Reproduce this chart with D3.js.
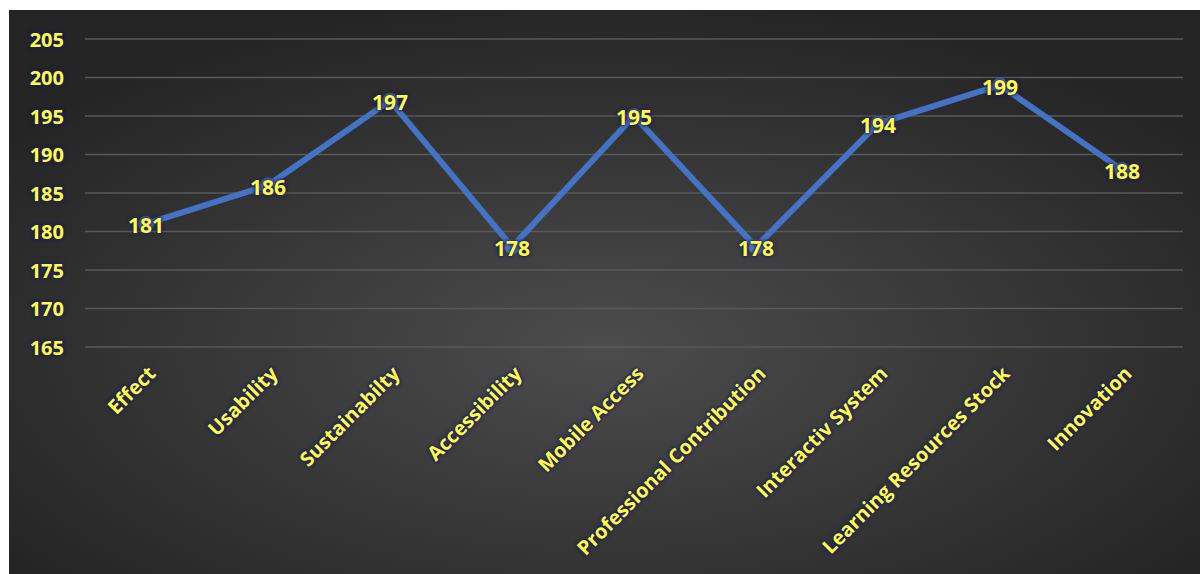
<!DOCTYPE html>
<html>
<head>
<meta charset="utf-8">
<script src="https://cdn.jsdelivr.net/npm/d3@7"></script>
<style>
  body { margin: 0; background: #fff; }
  text { font-family: "Open Sans", Lato, sans-serif; font-weight: bold; }
  .glow { text-shadow: 0 0 2px #1c1c8a, 0 0 3px #1c1c8a, 0 0 4px #1c1c6a; }
</style>
</head>
<body>
<svg id="chart" width="1200" height="574"></svg>
<script>
// data
const categories = ['Effect', 'Usability', 'Sustainabilty', 'Accessibility', 'Mobile Access',
  'Professional Contribution', 'Interactiv System', 'Learning Resources Stock', 'Innovation'];
const values = [181, 186, 197, 178, 195, 178, 194, 199, 188];
const yTicks = [165, 170, 175, 180, 185, 190, 195, 200, 205];

const svg = d3.select('#chart');
const width = +svg.attr('width');
const height = +svg.attr('height');
const margin = {top: 39, right: 17, left: 85};
const plotBottom = 347;
const fontSize = 20;

// background with radial gradient
const defs = svg.append('defs');
const grad = defs.append('radialGradient')
  .attr('id', 'bg')
  .attr('cx', '50%').attr('cy', '60%').attr('r', '62%');
grad.append('stop').attr('offset', '0%').attr('stop-color', '#4c4c4c');
grad.append('stop').attr('offset', '100%').attr('stop-color', '#252525');

svg.append('rect')
  .attr('x', 9).attr('y', 10)
  .attr('width', width - 9).attr('height', height - 10)
  .attr('fill', 'url(#bg)');

const xScale = d3.scaleBand()
  .domain(categories)
  .range([margin.left, width - margin.right]);

const yScale = d3.scaleLinear()
  .domain([165, 205])
  .range([plotBottom, margin.top]);

// gridlines
svg.append('g')
  .selectAll('line')
  .data(yTicks)
  .join('line')
  .attr('x1', margin.left)
  .attr('x2', width - margin.right)
  .attr('y1', d => yScale(d))
  .attr('y2', d => yScale(d))
  .attr('stroke', '#595959')
  .attr('stroke-width', 1.5);

// y axis labels
const yAxis = d3.axisLeft(yScale).tickValues(yTicks).tickSize(0).tickPadding(0);
const yg = svg.append('g')
  .attr('transform', `translate(64, 0)`)
  .call(yAxis);
yg.select('.domain').remove();
yg.selectAll('text')
  .attr('class', 'glow')
  .attr('fill', '#ffff33')
  .attr('font-size', fontSize)
  .attr('dy', '0.35em');

// x axis labels
const xAxis = d3.axisBottom(xScale).tickSize(0).tickPadding(0);
const xg = svg.append('g')
  .attr('transform', `translate(0, 370)`)
  .call(xAxis);
xg.select('.domain').remove();
xg.selectAll('text')
  .attr('class', 'glow')
  .attr('fill', '#ffff33')
  .attr('font-size', fontSize)
  .attr('text-anchor', 'end')
  .attr('dy', '0.35em')
  .attr('transform', 'translate(6, 0) rotate(-45)');

const cx = d => xScale(d) + xScale.bandwidth() / 2;

// line
const line = d3.line()
  .x((d, i) => cx(categories[i]))
  .y(d => yScale(d));

svg.append('path')
  .datum(values)
  .attr('d', line)
  .attr('fill', 'none')
  .attr('stroke', '#4472c4')
  .attr('stroke-width', 6)
  .attr('stroke-linejoin', 'round');

// markers
svg.append('g')
  .selectAll('circle')
  .data(values)
  .join('circle')
  .attr('cx', (d, i) => cx(categories[i]))
  .attr('cy', d => yScale(d))
  .attr('r', 7.5)
  .attr('fill', '#5b7db5')
  .attr('stroke', '#3f5f99')
  .attr('stroke-width', 1);

// data labels
svg.append('g')
  .selectAll('text')
  .data(values)
  .join('text')
  .attr('class', 'glow')
  .attr('x', (d, i) => cx(categories[i]))
  .attr('y', d => yScale(d) + 2)
  .attr('text-anchor', 'middle')
  .attr('dy', '0.35em')
  .attr('fill', '#ffff33')
  .attr('font-size', fontSize + 1)
  .text(d => d);
</script>
</body>
</html>
